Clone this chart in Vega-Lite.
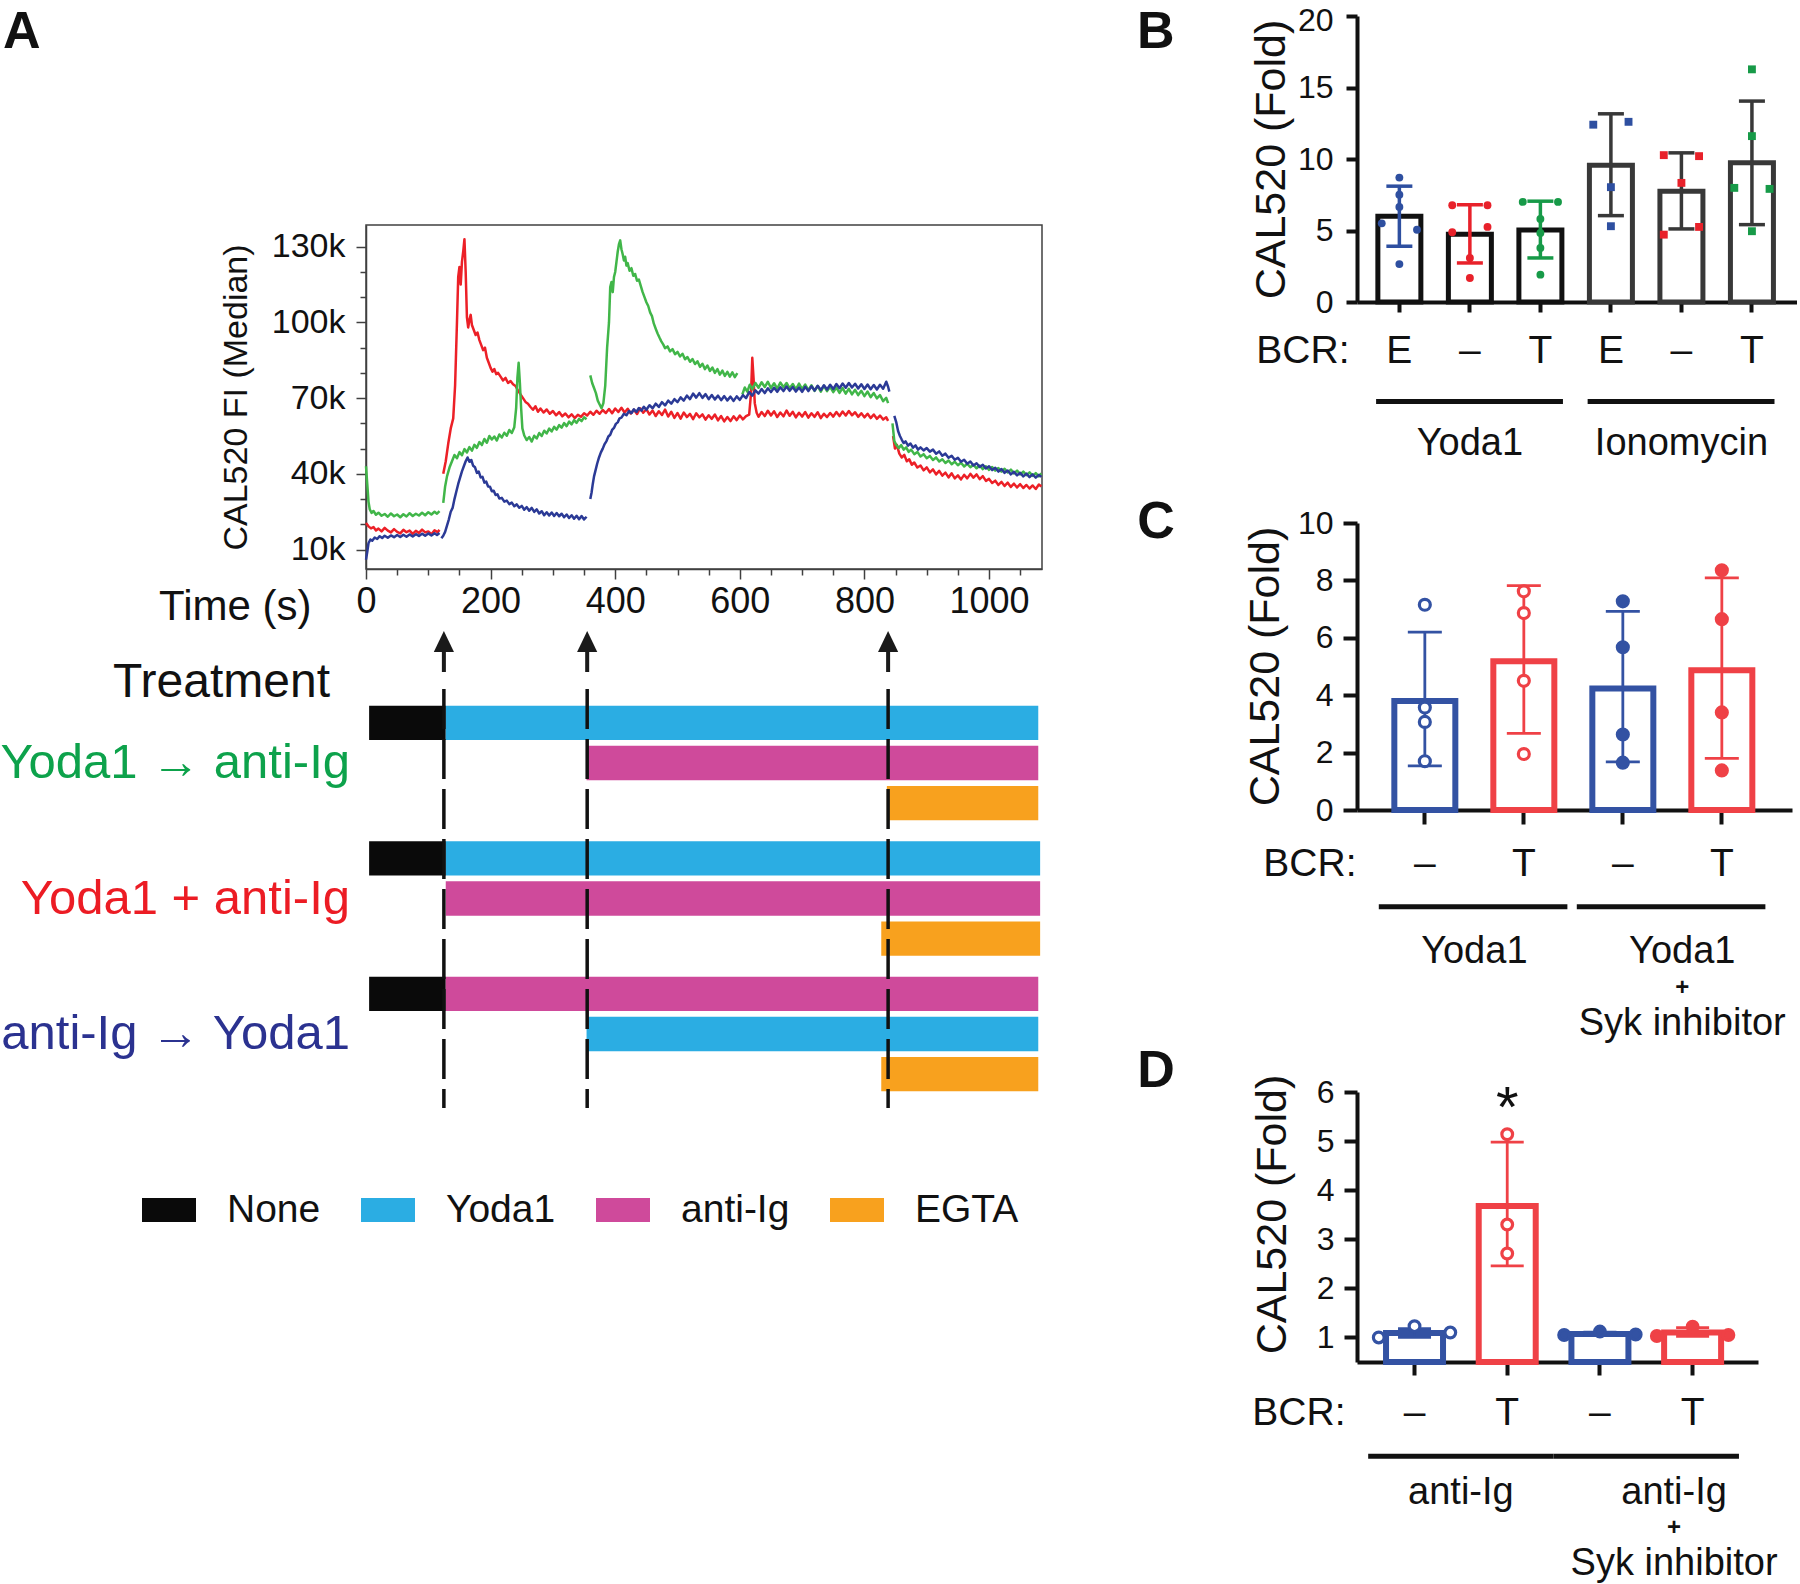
{
"$schema": "https://vega.github.io/schema/vega-lite/v6.json",
"padding": {"left": 0, "top": 4, "right": 0, "bottom": 0},
"background": "white",
"config": {"font": "Liberation Sans", "view": {"stroke": null}, "axis": {"labelColor": "#111", "titleColor": "#111", "domainColor": "#111", "tickColor": "#111", "grid": false, "titleFontWeight": "normal"}, "text": {"color": "#111"}},
"datasets": {
"trace": [
{"s":"R","g":1,"t":0,"v":20.5},{"s":"R","g":1,"t":4,"v":19.2},{"s":"R","g":1,"t":8,"v":18.4},{"s":"R","g":1,"t":12,"v":18.9},{"s":"R","g":1,"t":16,"v":17.6},{"s":"R","g":1,"t":20,"v":18.3},{"s":"R","g":1,"t":25,"v":17.2},{"s":"R","g":1,"t":30,"v":18.6},{"s":"R","g":1,"t":35,"v":17.5},{"s":"R","g":1,"t":40,"v":16.8},{"s":"R","g":1,"t":45,"v":18.1},{"s":"R","g":1,"t":50,"v":17.0},{"s":"R","g":1,"t":55,"v":16.4},{"s":"R","g":1,"t":60,"v":17.8},{"s":"R","g":1,"t":65,"v":16.9},{"s":"R","g":1,"t":70,"v":17.5},{"s":"R","g":1,"t":75,"v":16.2},{"s":"R","g":1,"t":80,"v":17.4},{"s":"R","g":1,"t":85,"v":16.6},{"s":"R","g":1,"t":90,"v":17.9},{"s":"R","g":1,"t":95,"v":16.8},{"s":"R","g":1,"t":100,"v":17.2},{"s":"R","g":1,"t":105,"v":16.1},{"s":"R","g":1,"t":110,"v":17.6},{"s":"R","g":1,"t":115,"v":16.9},{"s":"R","g":1,"t":118,"v":17.8},
{"s":"R","g":2,"t":124,"v":40},{"s":"R","g":2,"t":128,"v":45},{"s":"R","g":2,"t":132,"v":52},{"s":"R","g":2,"t":136,"v":58},{"s":"R","g":2,"t":140,"v":62},{"s":"R","g":2,"t":143,"v":75},{"s":"R","g":2,"t":146,"v":100},{"s":"R","g":2,"t":148,"v":118},{"s":"R","g":2,"t":150,"v":122},{"s":"R","g":2,"t":152,"v":115},{"s":"R","g":2,"t":154,"v":124},{"s":"R","g":2,"t":156,"v":128},{"s":"R","g":2,"t":158,"v":133},{"s":"R","g":2,"t":160,"v":120},{"s":"R","g":2,"t":162,"v":102},{"s":"R","g":2,"t":164,"v":98},{"s":"R","g":2,"t":166,"v":101},{"s":"R","g":2,"t":168,"v":103},{"s":"R","g":2,"t":170,"v":99},{"s":"R","g":2,"t":173,"v":97},{"s":"R","g":2,"t":176,"v":95},{"s":"R","g":2,"t":179,"v":96},{"s":"R","g":2,"t":182,"v":93},{"s":"R","g":2,"t":185,"v":91},{"s":"R","g":2,"t":188,"v":89},{"s":"R","g":2,"t":191,"v":90},{"s":"R","g":2,"t":194,"v":86},{"s":"R","g":2,"t":197,"v":84},{"s":"R","g":2,"t":200,"v":82},{"s":"R","g":2,"t":203,"v":80.5},{"s":"R","g":2,"t":206,"v":81.5},{"s":"R","g":2,"t":209,"v":79.5},{"s":"R","g":2,"t":212,"v":80},{"s":"R","g":2,"t":216,"v":78.5},{"s":"R","g":2,"t":220,"v":77},{"s":"R","g":2,"t":224,"v":78},{"s":"R","g":2,"t":228,"v":76},{"s":"R","g":2,"t":232,"v":76.8},{"s":"R","g":2,"t":236,"v":75.5},{"s":"R","g":2,"t":240,"v":74.8},{"s":"R","g":2,"t":244,"v":73},{"s":"R","g":2,"t":248,"v":71.5},{"s":"R","g":2,"t":252,"v":70},{"s":"R","g":2,"t":256,"v":68.5},{"s":"R","g":2,"t":260,"v":67.8},{"s":"R","g":2,"t":264,"v":66.5},{"s":"R","g":2,"t":268,"v":65.4},{"s":"R","g":2,"t":272,"v":66.8},{"s":"R","g":2,"t":276,"v":64.6},{"s":"R","g":2,"t":280,"v":65.9},{"s":"R","g":2,"t":285,"v":64.3},{"s":"R","g":2,"t":290,"v":65.5},{"s":"R","g":2,"t":295,"v":63.8},{"s":"R","g":2,"t":300,"v":64.9},{"s":"R","g":2,"t":305,"v":63.2},{"s":"R","g":2,"t":310,"v":64.5},{"s":"R","g":2,"t":315,"v":62.8},{"s":"R","g":2,"t":320,"v":63.9},{"s":"R","g":2,"t":325,"v":62.4},{"s":"R","g":2,"t":330,"v":63.6},{"s":"R","g":2,"t":335,"v":62.1},{"s":"R","g":2,"t":340,"v":63.4},{"s":"R","g":2,"t":345,"v":62.6},{"s":"R","g":2,"t":350,"v":64.0},{"s":"R","g":2,"t":355,"v":63.1},{"s":"R","g":2,"t":360,"v":64.6},{"s":"R","g":2,"t":365,"v":63.4},{"s":"R","g":2,"t":370,"v":65.0},{"s":"R","g":2,"t":375,"v":63.8},{"s":"R","g":2,"t":380,"v":65.3},{"s":"R","g":2,"t":385,"v":64.1},{"s":"R","g":2,"t":390,"v":65.7},{"s":"R","g":2,"t":395,"v":64.0},{"s":"R","g":2,"t":400,"v":65.9},{"s":"R","g":2,"t":405,"v":64.5},{"s":"R","g":2,"t":410,"v":66.2},{"s":"R","g":2,"t":415,"v":64.3},{"s":"R","g":2,"t":420,"v":65.8},{"s":"R","g":2,"t":425,"v":63.9},{"s":"R","g":2,"t":430,"v":65.4},{"s":"R","g":2,"t":435,"v":63.7},{"s":"R","g":2,"t":440,"v":66.0},{"s":"R","g":2,"t":445,"v":64.2},{"s":"R","g":2,"t":450,"v":65.6},{"s":"R","g":2,"t":455,"v":63.5},{"s":"R","g":2,"t":460,"v":65.1},{"s":"R","g":2,"t":465,"v":62.9},{"s":"R","g":2,"t":470,"v":64.8},{"s":"R","g":2,"t":475,"v":63.3},{"s":"R","g":2,"t":480,"v":65.5},{"s":"R","g":2,"t":485,"v":62.7},{"s":"R","g":2,"t":490,"v":64.6},{"s":"R","g":2,"t":495,"v":62.2},{"s":"R","g":2,"t":500,"v":64.1},{"s":"R","g":2,"t":505,"v":61.9},{"s":"R","g":2,"t":510,"v":64.3},{"s":"R","g":2,"t":515,"v":62.5},{"s":"R","g":2,"t":520,"v":63.8},{"s":"R","g":2,"t":525,"v":61.7},{"s":"R","g":2,"t":530,"v":64.0},{"s":"R","g":2,"t":535,"v":62.4},{"s":"R","g":2,"t":540,"v":63.6},{"s":"R","g":2,"t":545,"v":61.5},{"s":"R","g":2,"t":550,"v":63.2},{"s":"R","g":2,"t":555,"v":61.8},{"s":"R","g":2,"t":560,"v":63.5},{"s":"R","g":2,"t":565,"v":61.2},{"s":"R","g":2,"t":570,"v":62.9},{"s":"R","g":2,"t":575,"v":60.8},{"s":"R","g":2,"t":580,"v":62.5},{"s":"R","g":2,"t":585,"v":60.9},{"s":"R","g":2,"t":590,"v":62.8},{"s":"R","g":2,"t":595,"v":61.3},{"s":"R","g":2,"t":600,"v":63.1},{"s":"R","g":2,"t":605,"v":61.6},{"s":"R","g":2,"t":610,"v":62.9},{"s":"R","g":2,"t":615,"v":63.5},{"s":"R","g":2,"t":618,"v":72},{"s":"R","g":2,"t":620,"v":86},{"s":"R","g":2,"t":622,"v":78},{"s":"R","g":2,"t":624,"v":68},{"s":"R","g":2,"t":627,"v":64.2},{"s":"R","g":2,"t":630,"v":62.6},{"s":"R","g":2,"t":635,"v":64.5},{"s":"R","g":2,"t":640,"v":62.9},{"s":"R","g":2,"t":645,"v":65.0},{"s":"R","g":2,"t":650,"v":63.1},{"s":"R","g":2,"t":655,"v":64.8},{"s":"R","g":2,"t":660,"v":62.5},{"s":"R","g":2,"t":665,"v":64.3},{"s":"R","g":2,"t":670,"v":62.8},{"s":"R","g":2,"t":675,"v":65.1},{"s":"R","g":2,"t":680,"v":63.0},{"s":"R","g":2,"t":685,"v":64.6},{"s":"R","g":2,"t":690,"v":62.4},{"s":"R","g":2,"t":695,"v":64.2},{"s":"R","g":2,"t":700,"v":62.7},{"s":"R","g":2,"t":705,"v":64.5},{"s":"R","g":2,"t":710,"v":62.3},{"s":"R","g":2,"t":715,"v":64.0},{"s":"R","g":2,"t":720,"v":62.6},{"s":"R","g":2,"t":725,"v":64.4},{"s":"R","g":2,"t":730,"v":62.1},{"s":"R","g":2,"t":735,"v":63.8},{"s":"R","g":2,"t":740,"v":62.5},{"s":"R","g":2,"t":745,"v":64.1},{"s":"R","g":2,"t":750,"v":62.7},{"s":"R","g":2,"t":755,"v":64.5},{"s":"R","g":2,"t":760,"v":62.9},{"s":"R","g":2,"t":765,"v":64.7},{"s":"R","g":2,"t":770,"v":63.1},{"s":"R","g":2,"t":775,"v":64.9},{"s":"R","g":2,"t":780,"v":63.2},{"s":"R","g":2,"t":785,"v":64.4},{"s":"R","g":2,"t":790,"v":62.6},{"s":"R","g":2,"t":795,"v":64.0},{"s":"R","g":2,"t":800,"v":62.4},{"s":"R","g":2,"t":805,"v":63.8},{"s":"R","g":2,"t":810,"v":62.1},{"s":"R","g":2,"t":815,"v":63.5},{"s":"R","g":2,"t":820,"v":61.8},{"s":"R","g":2,"t":825,"v":63.1},{"s":"R","g":2,"t":830,"v":61.5},{"s":"R","g":2,"t":835,"v":62.4},{"s":"R","g":2,"t":838,"v":61.0},
{"s":"R","g":3,"t":846,"v":55},{"s":"R","g":3,"t":849,"v":50},{"s":"R","g":3,"t":852,"v":51.5},{"s":"R","g":3,"t":856,"v":48},{"s":"R","g":3,"t":860,"v":46.5},{"s":"R","g":3,"t":864,"v":47.5},{"s":"R","g":3,"t":868,"v":45},{"s":"R","g":3,"t":872,"v":45.8},{"s":"R","g":3,"t":876,"v":43.6},{"s":"R","g":3,"t":880,"v":44.5},{"s":"R","g":3,"t":885,"v":42.5},{"s":"R","g":3,"t":890,"v":43.3},{"s":"R","g":3,"t":895,"v":41.4},{"s":"R","g":3,"t":900,"v":42.6},{"s":"R","g":3,"t":905,"v":40.6},{"s":"R","g":3,"t":910,"v":41.8},{"s":"R","g":3,"t":915,"v":39.8},{"s":"R","g":3,"t":920,"v":41.2},{"s":"R","g":3,"t":925,"v":39.3},{"s":"R","g":3,"t":930,"v":40.5},{"s":"R","g":3,"t":935,"v":38.6},{"s":"R","g":3,"t":940,"v":40.2},{"s":"R","g":3,"t":945,"v":38.2},{"s":"R","g":3,"t":950,"v":39.4},{"s":"R","g":3,"t":955,"v":37.8},{"s":"R","g":3,"t":960,"v":39.6},{"s":"R","g":3,"t":965,"v":38.2},{"s":"R","g":3,"t":970,"v":40.0},{"s":"R","g":3,"t":975,"v":38.5},{"s":"R","g":3,"t":980,"v":39.8},{"s":"R","g":3,"t":985,"v":37.9},{"s":"R","g":3,"t":990,"v":39.1},{"s":"R","g":3,"t":995,"v":37.2},{"s":"R","g":3,"t":1000,"v":38.0},{"s":"R","g":3,"t":1005,"v":36.4},{"s":"R","g":3,"t":1010,"v":37.3},{"s":"R","g":3,"t":1015,"v":35.6},{"s":"R","g":3,"t":1020,"v":36.8},{"s":"R","g":3,"t":1025,"v":35.2},{"s":"R","g":3,"t":1030,"v":36.5},{"s":"R","g":3,"t":1035,"v":34.8},{"s":"R","g":3,"t":1040,"v":36.1},{"s":"R","g":3,"t":1045,"v":34.6},{"s":"R","g":3,"t":1050,"v":35.9},{"s":"R","g":3,"t":1055,"v":34.4},{"s":"R","g":3,"t":1060,"v":35.6},{"s":"R","g":3,"t":1065,"v":34.2},{"s":"R","g":3,"t":1070,"v":35.4},{"s":"R","g":3,"t":1075,"v":34.0},{"s":"R","g":3,"t":1080,"v":35.8},{"s":"R","g":3,"t":1084,"v":35.0},
{"s":"G","g":1,"t":0,"v":43},{"s":"G","g":1,"t":2,"v":36},{"s":"G","g":1,"t":4,"v":29},{"s":"G","g":1,"t":6,"v":26},{"s":"G","g":1,"t":9,"v":24.5},{"s":"G","g":1,"t":12,"v":25.3},{"s":"G","g":1,"t":16,"v":23.8},{"s":"G","g":1,"t":20,"v":24.6},{"s":"G","g":1,"t":25,"v":23.4},{"s":"G","g":1,"t":30,"v":24.1},{"s":"G","g":1,"t":35,"v":23.0},{"s":"G","g":1,"t":40,"v":24.3},{"s":"G","g":1,"t":45,"v":23.2},{"s":"G","g":1,"t":50,"v":23.9},{"s":"G","g":1,"t":55,"v":22.8},{"s":"G","g":1,"t":60,"v":24.0},{"s":"G","g":1,"t":65,"v":23.1},{"s":"G","g":1,"t":70,"v":24.4},{"s":"G","g":1,"t":75,"v":23.3},{"s":"G","g":1,"t":80,"v":24.2},{"s":"G","g":1,"t":85,"v":23.5},{"s":"G","g":1,"t":90,"v":24.6},{"s":"G","g":1,"t":95,"v":23.6},{"s":"G","g":1,"t":100,"v":24.8},{"s":"G","g":1,"t":105,"v":23.9},{"s":"G","g":1,"t":110,"v":25.0},{"s":"G","g":1,"t":114,"v":24.2},{"s":"G","g":1,"t":118,"v":25.2},
{"s":"G","g":2,"t":124,"v":28.5},{"s":"G","g":2,"t":127,"v":35},{"s":"G","g":2,"t":130,"v":39},{"s":"G","g":2,"t":134,"v":42.5},{"s":"G","g":2,"t":138,"v":45},{"s":"G","g":2,"t":142,"v":47.5},{"s":"G","g":2,"t":146,"v":46.2},{"s":"G","g":2,"t":150,"v":48.6},{"s":"G","g":2,"t":154,"v":47.4},{"s":"G","g":2,"t":158,"v":49.8},{"s":"G","g":2,"t":162,"v":48.5},{"s":"G","g":2,"t":166,"v":50.6},{"s":"G","g":2,"t":170,"v":49.2},{"s":"G","g":2,"t":174,"v":51.5},{"s":"G","g":2,"t":178,"v":50.3},{"s":"G","g":2,"t":182,"v":52.6},{"s":"G","g":2,"t":186,"v":51.4},{"s":"G","g":2,"t":190,"v":53.8},{"s":"G","g":2,"t":194,"v":52.3},{"s":"G","g":2,"t":198,"v":55.0},{"s":"G","g":2,"t":202,"v":53.6},{"s":"G","g":2,"t":206,"v":54.8},{"s":"G","g":2,"t":210,"v":53.2},{"s":"G","g":2,"t":214,"v":55.6},{"s":"G","g":2,"t":218,"v":54.4},{"s":"G","g":2,"t":222,"v":56.3},{"s":"G","g":2,"t":226,"v":55.1},{"s":"G","g":2,"t":230,"v":57.4},{"s":"G","g":2,"t":234,"v":56.2},{"s":"G","g":2,"t":238,"v":58.5},{"s":"G","g":2,"t":241,"v":66},{"s":"G","g":2,"t":243,"v":78},{"s":"G","g":2,"t":245,"v":84},{"s":"G","g":2,"t":247,"v":76},{"s":"G","g":2,"t":249,"v":66},{"s":"G","g":2,"t":251,"v":58},{"s":"G","g":2,"t":254,"v":55.2},{"s":"G","g":2,"t":258,"v":53.4},{"s":"G","g":2,"t":262,"v":54.6},{"s":"G","g":2,"t":266,"v":52.8},{"s":"G","g":2,"t":270,"v":55.1},{"s":"G","g":2,"t":274,"v":54.0},{"s":"G","g":2,"t":278,"v":56.2},{"s":"G","g":2,"t":282,"v":55.0},{"s":"G","g":2,"t":286,"v":57.1},{"s":"G","g":2,"t":290,"v":56.0},{"s":"G","g":2,"t":294,"v":57.9},{"s":"G","g":2,"t":298,"v":56.8},{"s":"G","g":2,"t":302,"v":58.6},{"s":"G","g":2,"t":306,"v":57.5},{"s":"G","g":2,"t":310,"v":59.3},{"s":"G","g":2,"t":314,"v":58.3},{"s":"G","g":2,"t":318,"v":60.1},{"s":"G","g":2,"t":322,"v":58.9},{"s":"G","g":2,"t":326,"v":60.7},{"s":"G","g":2,"t":330,"v":59.6},{"s":"G","g":2,"t":334,"v":61.3},{"s":"G","g":2,"t":338,"v":60.2},{"s":"G","g":2,"t":342,"v":61.8},{"s":"G","g":2,"t":346,"v":60.9},{"s":"G","g":2,"t":350,"v":62.4},{"s":"G","g":2,"t":354,"v":61.6},
{"s":"G","g":3,"t":360,"v":79},{"s":"G","g":3,"t":363,"v":76},{"s":"G","g":3,"t":366,"v":74},{"s":"G","g":3,"t":369,"v":72},{"s":"G","g":3,"t":372,"v":69},{"s":"G","g":3,"t":375,"v":67.5},{"s":"G","g":3,"t":378,"v":66},{"s":"G","g":3,"t":381,"v":68},{"s":"G","g":3,"t":384,"v":75},{"s":"G","g":3,"t":387,"v":90},{"s":"G","g":3,"t":390,"v":100},{"s":"G","g":3,"t":392,"v":114},{"s":"G","g":3,"t":394,"v":116},{"s":"G","g":3,"t":396,"v":112},{"s":"G","g":3,"t":398,"v":118},{"s":"G","g":3,"t":400,"v":120},{"s":"G","g":3,"t":402,"v":124},{"s":"G","g":3,"t":404,"v":128},{"s":"G","g":3,"t":406,"v":131},{"s":"G","g":3,"t":408,"v":132.5},{"s":"G","g":3,"t":410,"v":129},{"s":"G","g":3,"t":412,"v":127},{"s":"G","g":3,"t":414,"v":124.5},{"s":"G","g":3,"t":416,"v":126},{"s":"G","g":3,"t":418,"v":122.5},{"s":"G","g":3,"t":420,"v":123.5},{"s":"G","g":3,"t":423,"v":120.5},{"s":"G","g":3,"t":426,"v":121.5},{"s":"G","g":3,"t":429,"v":118.5},{"s":"G","g":3,"t":432,"v":119.2},{"s":"G","g":3,"t":435,"v":116.5},{"s":"G","g":3,"t":438,"v":117},{"s":"G","g":3,"t":441,"v":114.5},{"s":"G","g":3,"t":444,"v":112},{"s":"G","g":3,"t":447,"v":110},{"s":"G","g":3,"t":450,"v":108},{"s":"G","g":3,"t":453,"v":106.5},{"s":"G","g":3,"t":456,"v":104},{"s":"G","g":3,"t":459,"v":102.5},{"s":"G","g":3,"t":462,"v":99.5},{"s":"G","g":3,"t":465,"v":97.5},{"s":"G","g":3,"t":468,"v":95.6},{"s":"G","g":3,"t":471,"v":94},{"s":"G","g":3,"t":474,"v":92.5},{"s":"G","g":3,"t":477,"v":91.3},{"s":"G","g":3,"t":480,"v":89.8},{"s":"G","g":3,"t":484,"v":90.5},{"s":"G","g":3,"t":488,"v":88.5},{"s":"G","g":3,"t":492,"v":89.4},{"s":"G","g":3,"t":496,"v":87.4},{"s":"G","g":3,"t":500,"v":88.3},{"s":"G","g":3,"t":504,"v":86.5},{"s":"G","g":3,"t":508,"v":87.6},{"s":"G","g":3,"t":512,"v":85.4},{"s":"G","g":3,"t":516,"v":86.3},{"s":"G","g":3,"t":520,"v":84.4},{"s":"G","g":3,"t":524,"v":85.5},{"s":"G","g":3,"t":528,"v":83.5},{"s":"G","g":3,"t":532,"v":84.6},{"s":"G","g":3,"t":536,"v":82.4},{"s":"G","g":3,"t":540,"v":83.6},{"s":"G","g":3,"t":544,"v":81.5},{"s":"G","g":3,"t":548,"v":82.9},{"s":"G","g":3,"t":552,"v":80.8},{"s":"G","g":3,"t":556,"v":82.1},{"s":"G","g":3,"t":560,"v":80.0},{"s":"G","g":3,"t":564,"v":81.5},{"s":"G","g":3,"t":568,"v":79.3},{"s":"G","g":3,"t":572,"v":80.9},{"s":"G","g":3,"t":576,"v":78.8},{"s":"G","g":3,"t":580,"v":80.4},{"s":"G","g":3,"t":584,"v":78.5},{"s":"G","g":3,"t":588,"v":80.2},{"s":"G","g":3,"t":592,"v":78.3},{"s":"G","g":3,"t":596,"v":79.9},
{"s":"G","g":4,"t":604,"v":71.5},{"s":"G","g":4,"t":608,"v":74.2},{"s":"G","g":4,"t":612,"v":72.6},{"s":"G","g":4,"t":616,"v":75.3},{"s":"G","g":4,"t":620,"v":73.5},{"s":"G","g":4,"t":625,"v":76.0},{"s":"G","g":4,"t":630,"v":74.1},{"s":"G","g":4,"t":635,"v":76.3},{"s":"G","g":4,"t":640,"v":74.4},{"s":"G","g":4,"t":645,"v":76.5},{"s":"G","g":4,"t":650,"v":74.0},{"s":"G","g":4,"t":655,"v":75.9},{"s":"G","g":4,"t":660,"v":73.8},{"s":"G","g":4,"t":665,"v":76.2},{"s":"G","g":4,"t":670,"v":74.3},{"s":"G","g":4,"t":675,"v":76.0},{"s":"G","g":4,"t":680,"v":73.9},{"s":"G","g":4,"t":685,"v":75.6},{"s":"G","g":4,"t":690,"v":73.5},{"s":"G","g":4,"t":695,"v":75.8},{"s":"G","g":4,"t":700,"v":73.6},{"s":"G","g":4,"t":705,"v":75.4},{"s":"G","g":4,"t":710,"v":73.2},{"s":"G","g":4,"t":715,"v":75.1},{"s":"G","g":4,"t":720,"v":72.9},{"s":"G","g":4,"t":725,"v":74.8},{"s":"G","g":4,"t":730,"v":72.6},{"s":"G","g":4,"t":735,"v":74.9},{"s":"G","g":4,"t":740,"v":72.8},{"s":"G","g":4,"t":745,"v":74.5},{"s":"G","g":4,"t":750,"v":72.4},{"s":"G","g":4,"t":755,"v":74.2},{"s":"G","g":4,"t":760,"v":72.1},{"s":"G","g":4,"t":765,"v":74.0},{"s":"G","g":4,"t":770,"v":71.8},{"s":"G","g":4,"t":775,"v":73.7},{"s":"G","g":4,"t":780,"v":71.5},{"s":"G","g":4,"t":785,"v":73.3},{"s":"G","g":4,"t":790,"v":71.2},{"s":"G","g":4,"t":795,"v":72.9},{"s":"G","g":4,"t":800,"v":70.8},{"s":"G","g":4,"t":805,"v":72.6},{"s":"G","g":4,"t":810,"v":70.4},{"s":"G","g":4,"t":815,"v":72.0},{"s":"G","g":4,"t":820,"v":69.9},{"s":"G","g":4,"t":825,"v":71.2},{"s":"G","g":4,"t":830,"v":68.8},{"s":"G","g":4,"t":835,"v":70.1},{"s":"G","g":4,"t":838,"v":68.0},
{"s":"G","g":5,"t":845,"v":60},{"s":"G","g":5,"t":848,"v":53},{"s":"G","g":5,"t":851,"v":51.5},{"s":"G","g":5,"t":855,"v":50.2},{"s":"G","g":5,"t":859,"v":51.4},{"s":"G","g":5,"t":863,"v":49.6},{"s":"G","g":5,"t":867,"v":50.5},{"s":"G","g":5,"t":871,"v":48.7},{"s":"G","g":5,"t":875,"v":49.6},{"s":"G","g":5,"t":880,"v":47.8},{"s":"G","g":5,"t":885,"v":48.7},{"s":"G","g":5,"t":890,"v":46.9},{"s":"G","g":5,"t":895,"v":47.8},{"s":"G","g":5,"t":900,"v":46.2},{"s":"G","g":5,"t":905,"v":47.1},{"s":"G","g":5,"t":910,"v":45.5},{"s":"G","g":5,"t":915,"v":46.5},{"s":"G","g":5,"t":920,"v":44.9},{"s":"G","g":5,"t":925,"v":45.8},{"s":"G","g":5,"t":930,"v":44.3},{"s":"G","g":5,"t":935,"v":45.3},{"s":"G","g":5,"t":940,"v":43.8},{"s":"G","g":5,"t":945,"v":44.8},{"s":"G","g":5,"t":950,"v":43.4},{"s":"G","g":5,"t":955,"v":44.4},{"s":"G","g":5,"t":960,"v":42.9},{"s":"G","g":5,"t":965,"v":44.0},{"s":"G","g":5,"t":970,"v":42.6},{"s":"G","g":5,"t":975,"v":43.6},{"s":"G","g":5,"t":980,"v":42.2},{"s":"G","g":5,"t":985,"v":43.3},{"s":"G","g":5,"t":990,"v":41.9},{"s":"G","g":5,"t":995,"v":43.0},{"s":"G","g":5,"t":1000,"v":41.6},{"s":"G","g":5,"t":1005,"v":42.7},{"s":"G","g":5,"t":1010,"v":41.3},{"s":"G","g":5,"t":1015,"v":42.3},{"s":"G","g":5,"t":1020,"v":40.9},{"s":"G","g":5,"t":1025,"v":42.0},{"s":"G","g":5,"t":1030,"v":40.6},{"s":"G","g":5,"t":1035,"v":41.7},{"s":"G","g":5,"t":1040,"v":40.2},{"s":"G","g":5,"t":1045,"v":41.3},{"s":"G","g":5,"t":1050,"v":39.8},{"s":"G","g":5,"t":1055,"v":40.9},{"s":"G","g":5,"t":1060,"v":39.5},{"s":"G","g":5,"t":1065,"v":40.6},{"s":"G","g":5,"t":1070,"v":39.2},{"s":"G","g":5,"t":1075,"v":40.3},{"s":"G","g":5,"t":1080,"v":39.0},{"s":"G","g":5,"t":1084,"v":40.2},
{"s":"B","g":1,"t":0,"v":6},{"s":"B","g":1,"t":2,"v":9},{"s":"B","g":1,"t":4,"v":12.5},{"s":"B","g":1,"t":7,"v":14},{"s":"B","g":1,"t":10,"v":13.5},{"s":"B","g":1,"t":14,"v":14.8},{"s":"B","g":1,"t":18,"v":14.2},{"s":"B","g":1,"t":22,"v":15.3},{"s":"B","g":1,"t":26,"v":14.6},{"s":"B","g":1,"t":30,"v":15.5},{"s":"B","g":1,"t":35,"v":14.7},{"s":"B","g":1,"t":40,"v":15.6},{"s":"B","g":1,"t":45,"v":14.9},{"s":"B","g":1,"t":50,"v":15.8},{"s":"B","g":1,"t":55,"v":15.0},{"s":"B","g":1,"t":60,"v":15.9},{"s":"B","g":1,"t":65,"v":15.1},{"s":"B","g":1,"t":70,"v":16.0},{"s":"B","g":1,"t":75,"v":15.2},{"s":"B","g":1,"t":80,"v":16.1},{"s":"B","g":1,"t":85,"v":15.4},{"s":"B","g":1,"t":90,"v":16.3},{"s":"B","g":1,"t":95,"v":15.5},{"s":"B","g":1,"t":100,"v":16.4},{"s":"B","g":1,"t":105,"v":15.6},{"s":"B","g":1,"t":110,"v":16.5},{"s":"B","g":1,"t":114,"v":15.8},{"s":"B","g":1,"t":118,"v":16.6},
{"s":"B","g":2,"t":121,"v":14.5},{"s":"B","g":2,"t":124,"v":15.5},{"s":"B","g":2,"t":127,"v":17},{"s":"B","g":2,"t":130,"v":19.5},{"s":"B","g":2,"t":133,"v":22},{"s":"B","g":2,"t":136,"v":25},{"s":"B","g":2,"t":139,"v":26.5},{"s":"B","g":2,"t":142,"v":30},{"s":"B","g":2,"t":145,"v":33},{"s":"B","g":2,"t":148,"v":36},{"s":"B","g":2,"t":151,"v":38.5},{"s":"B","g":2,"t":154,"v":41},{"s":"B","g":2,"t":157,"v":43},{"s":"B","g":2,"t":160,"v":45},{"s":"B","g":2,"t":163,"v":46.5},{"s":"B","g":2,"t":166,"v":44.8},{"s":"B","g":2,"t":169,"v":45.5},{"s":"B","g":2,"t":172,"v":43.2},{"s":"B","g":2,"t":175,"v":42.6},{"s":"B","g":2,"t":178,"v":40.4},{"s":"B","g":2,"t":181,"v":40.9},{"s":"B","g":2,"t":184,"v":38.6},{"s":"B","g":2,"t":187,"v":38.8},{"s":"B","g":2,"t":190,"v":36.5},{"s":"B","g":2,"t":193,"v":36.9},{"s":"B","g":2,"t":196,"v":35.0},{"s":"B","g":2,"t":199,"v":34.9},{"s":"B","g":2,"t":202,"v":33.1},{"s":"B","g":2,"t":205,"v":33.3},{"s":"B","g":2,"t":208,"v":31.6},{"s":"B","g":2,"t":211,"v":31.9},{"s":"B","g":2,"t":214,"v":30.2},{"s":"B","g":2,"t":218,"v":30.5},{"s":"B","g":2,"t":222,"v":29.0},{"s":"B","g":2,"t":226,"v":29.4},{"s":"B","g":2,"t":230,"v":28.0},{"s":"B","g":2,"t":234,"v":28.6},{"s":"B","g":2,"t":238,"v":27.2},{"s":"B","g":2,"t":242,"v":27.9},{"s":"B","g":2,"t":246,"v":26.6},{"s":"B","g":2,"t":250,"v":27.3},{"s":"B","g":2,"t":254,"v":25.8},{"s":"B","g":2,"t":258,"v":26.8},{"s":"B","g":2,"t":262,"v":25.4},{"s":"B","g":2,"t":266,"v":26.5},{"s":"B","g":2,"t":270,"v":24.9},{"s":"B","g":2,"t":274,"v":25.9},{"s":"B","g":2,"t":278,"v":24.3},{"s":"B","g":2,"t":282,"v":25.2},{"s":"B","g":2,"t":286,"v":23.6},{"s":"B","g":2,"t":290,"v":24.8},{"s":"B","g":2,"t":294,"v":23.5},{"s":"B","g":2,"t":298,"v":24.7},{"s":"B","g":2,"t":302,"v":23.3},{"s":"B","g":2,"t":306,"v":24.5},{"s":"B","g":2,"t":310,"v":23.2},{"s":"B","g":2,"t":314,"v":24.2},{"s":"B","g":2,"t":318,"v":22.8},{"s":"B","g":2,"t":322,"v":23.9},{"s":"B","g":2,"t":326,"v":22.5},{"s":"B","g":2,"t":330,"v":23.6},{"s":"B","g":2,"t":334,"v":22.2},{"s":"B","g":2,"t":338,"v":23.4},{"s":"B","g":2,"t":342,"v":22.0},{"s":"B","g":2,"t":346,"v":23.3},{"s":"B","g":2,"t":350,"v":21.9},{"s":"B","g":2,"t":354,"v":23.0},
{"s":"B","g":3,"t":360,"v":30},{"s":"B","g":3,"t":362,"v":32.5},{"s":"B","g":3,"t":364,"v":36},{"s":"B","g":3,"t":366,"v":39},{"s":"B","g":3,"t":368,"v":41},{"s":"B","g":3,"t":371,"v":44},{"s":"B","g":3,"t":374,"v":46.5},{"s":"B","g":3,"t":377,"v":48.5},{"s":"B","g":3,"t":380,"v":50},{"s":"B","g":3,"t":383,"v":51.8},{"s":"B","g":3,"t":386,"v":53},{"s":"B","g":3,"t":389,"v":54.8},{"s":"B","g":3,"t":392,"v":55.5},{"s":"B","g":3,"t":395,"v":57.4},{"s":"B","g":3,"t":398,"v":58.2},{"s":"B","g":3,"t":401,"v":59.8},{"s":"B","g":3,"t":404,"v":60.4},{"s":"B","g":3,"t":407,"v":62.0},{"s":"B","g":3,"t":410,"v":62.3},{"s":"B","g":3,"t":414,"v":63.8},{"s":"B","g":3,"t":418,"v":63.2},{"s":"B","g":3,"t":422,"v":64.9},{"s":"B","g":3,"t":426,"v":64.0},{"s":"B","g":3,"t":430,"v":65.6},{"s":"B","g":3,"t":434,"v":64.5},{"s":"B","g":3,"t":438,"v":66.1},{"s":"B","g":3,"t":442,"v":65.0},{"s":"B","g":3,"t":446,"v":66.6},{"s":"B","g":3,"t":450,"v":65.4},{"s":"B","g":3,"t":455,"v":67.2},{"s":"B","g":3,"t":460,"v":66.0},{"s":"B","g":3,"t":465,"v":67.8},{"s":"B","g":3,"t":470,"v":66.5},{"s":"B","g":3,"t":475,"v":68.4},{"s":"B","g":3,"t":480,"v":67.1},{"s":"B","g":3,"t":485,"v":69.0},{"s":"B","g":3,"t":490,"v":67.8},{"s":"B","g":3,"t":495,"v":69.6},{"s":"B","g":3,"t":500,"v":68.4},{"s":"B","g":3,"t":505,"v":70.3},{"s":"B","g":3,"t":510,"v":69.0},{"s":"B","g":3,"t":515,"v":71.0},{"s":"B","g":3,"t":520,"v":69.6},{"s":"B","g":3,"t":525,"v":71.8},{"s":"B","g":3,"t":530,"v":70.2},{"s":"B","g":3,"t":535,"v":72.0},{"s":"B","g":3,"t":540,"v":70.1},{"s":"B","g":3,"t":545,"v":71.6},{"s":"B","g":3,"t":550,"v":69.6},{"s":"B","g":3,"t":555,"v":71.2},{"s":"B","g":3,"t":560,"v":69.5},{"s":"B","g":3,"t":565,"v":71.0},{"s":"B","g":3,"t":570,"v":69.2},{"s":"B","g":3,"t":575,"v":70.8},{"s":"B","g":3,"t":580,"v":69.1},{"s":"B","g":3,"t":585,"v":70.6},{"s":"B","g":3,"t":590,"v":68.9},{"s":"B","g":3,"t":595,"v":70.7},{"s":"B","g":3,"t":600,"v":69.3},{"s":"B","g":3,"t":605,"v":71.2},{"s":"B","g":3,"t":610,"v":70.0},{"s":"B","g":3,"t":615,"v":72.4},{"s":"B","g":3,"t":620,"v":71.0},{"s":"B","g":3,"t":625,"v":73.1},{"s":"B","g":3,"t":630,"v":71.8},{"s":"B","g":3,"t":635,"v":73.6},{"s":"B","g":3,"t":640,"v":72.0},{"s":"B","g":3,"t":645,"v":73.9},{"s":"B","g":3,"t":650,"v":72.4},{"s":"B","g":3,"t":655,"v":74.1},{"s":"B","g":3,"t":660,"v":72.5},{"s":"B","g":3,"t":665,"v":74.3},{"s":"B","g":3,"t":670,"v":72.8},{"s":"B","g":3,"t":675,"v":74.6},{"s":"B","g":3,"t":680,"v":72.9},{"s":"B","g":3,"t":685,"v":74.4},{"s":"B","g":3,"t":690,"v":72.6},{"s":"B","g":3,"t":695,"v":74.2},{"s":"B","g":3,"t":700,"v":72.5},{"s":"B","g":3,"t":705,"v":74.5},{"s":"B","g":3,"t":710,"v":72.8},{"s":"B","g":3,"t":715,"v":74.7},{"s":"B","g":3,"t":720,"v":73.0},{"s":"B","g":3,"t":725,"v":74.9},{"s":"B","g":3,"t":730,"v":73.2},{"s":"B","g":3,"t":735,"v":75.1},{"s":"B","g":3,"t":740,"v":73.4},{"s":"B","g":3,"t":745,"v":75.3},{"s":"B","g":3,"t":750,"v":73.6},{"s":"B","g":3,"t":755,"v":75.6},{"s":"B","g":3,"t":760,"v":73.9},{"s":"B","g":3,"t":765,"v":75.8},{"s":"B","g":3,"t":770,"v":74.1},{"s":"B","g":3,"t":775,"v":76.0},{"s":"B","g":3,"t":780,"v":74.2},{"s":"B","g":3,"t":785,"v":75.7},{"s":"B","g":3,"t":790,"v":73.8},{"s":"B","g":3,"t":795,"v":75.5},{"s":"B","g":3,"t":800,"v":73.6},{"s":"B","g":3,"t":805,"v":75.4},{"s":"B","g":3,"t":810,"v":73.5},{"s":"B","g":3,"t":815,"v":75.2},{"s":"B","g":3,"t":820,"v":73.4},{"s":"B","g":3,"t":825,"v":75.3},{"s":"B","g":3,"t":830,"v":73.7},{"s":"B","g":3,"t":835,"v":76.5},{"s":"B","g":3,"t":838,"v":74.5},{"s":"B","g":3,"t":840,"v":72.6},
{"s":"B","g":4,"t":848,"v":63},{"s":"B","g":4,"t":851,"v":60.5},{"s":"B","g":4,"t":854,"v":57},{"s":"B","g":4,"t":857,"v":55},{"s":"B","g":4,"t":860,"v":53.5},{"s":"B","g":4,"t":863,"v":52.2},{"s":"B","g":4,"t":866,"v":52.9},{"s":"B","g":4,"t":870,"v":51.2},{"s":"B","g":4,"t":874,"v":52.0},{"s":"B","g":4,"t":878,"v":50.4},{"s":"B","g":4,"t":882,"v":51.3},{"s":"B","g":4,"t":886,"v":49.6},{"s":"B","g":4,"t":890,"v":50.5},{"s":"B","g":4,"t":895,"v":49.3},{"s":"B","g":4,"t":900,"v":50.2},{"s":"B","g":4,"t":905,"v":48.8},{"s":"B","g":4,"t":910,"v":49.6},{"s":"B","g":4,"t":915,"v":48.0},{"s":"B","g":4,"t":920,"v":48.9},{"s":"B","g":4,"t":925,"v":47.2},{"s":"B","g":4,"t":930,"v":48.0},{"s":"B","g":4,"t":935,"v":46.4},{"s":"B","g":4,"t":940,"v":47.2},{"s":"B","g":4,"t":945,"v":45.6},{"s":"B","g":4,"t":950,"v":46.4},{"s":"B","g":4,"t":955,"v":44.8},{"s":"B","g":4,"t":960,"v":45.6},{"s":"B","g":4,"t":965,"v":44.0},{"s":"B","g":4,"t":970,"v":44.9},{"s":"B","g":4,"t":975,"v":43.3},{"s":"B","g":4,"t":980,"v":44.2},{"s":"B","g":4,"t":985,"v":42.7},{"s":"B","g":4,"t":990,"v":43.6},{"s":"B","g":4,"t":995,"v":42.1},{"s":"B","g":4,"t":1000,"v":43.0},{"s":"B","g":4,"t":1005,"v":41.5},{"s":"B","g":4,"t":1010,"v":42.4},{"s":"B","g":4,"t":1015,"v":40.9},{"s":"B","g":4,"t":1020,"v":41.9},{"s":"B","g":4,"t":1025,"v":40.4},{"s":"B","g":4,"t":1030,"v":41.3},{"s":"B","g":4,"t":1035,"v":39.8},{"s":"B","g":4,"t":1040,"v":40.8},{"s":"B","g":4,"t":1045,"v":39.4},{"s":"B","g":4,"t":1050,"v":40.4},{"s":"B","g":4,"t":1055,"v":39.0},{"s":"B","g":4,"t":1060,"v":40.1},{"s":"B","g":4,"t":1065,"v":38.7},{"s":"B","g":4,"t":1070,"v":39.8},{"s":"B","g":4,"t":1075,"v":38.5},{"s":"B","g":4,"t":1080,"v":39.6},{"s":"B","g":4,"t":1084,"v":38.8}
],
"treat": [
{"grp":"a","row":"1","treatment":"None","start":5,"end":128},
{"grp":"a","row":"1","treatment":"Yoda1","start":128,"end":1079},
{"grp":"a","row":"2","treatment":"anti-Ig","start":354,"end":1079},
{"grp":"a","row":"3","treatment":"EGTA","start":836,"end":1079},
{"grp":"b","row":"1","treatment":"None","start":5,"end":128},
{"grp":"b","row":"1","treatment":"Yoda1","start":128,"end":1082},
{"grp":"b","row":"2","treatment":"anti-Ig","start":128,"end":1082},
{"grp":"b","row":"3","treatment":"EGTA","start":827,"end":1082},
{"grp":"c","row":"1","treatment":"None","start":5,"end":128},
{"grp":"c","row":"1","treatment":"anti-Ig","start":128,"end":1079},
{"grp":"c","row":"2","treatment":"Yoda1","start":354,"end":1079},
{"grp":"c","row":"3","treatment":"EGTA","start":827,"end":1079}
],
"arms": [
{"grp":"a","label":"Yoda1 → anti-Ig"},
{"grp":"b","label":"Yoda1 + anti-Ig"},
{"grp":"c","label":"anti-Ig → Yoda1"}
],
"additions": [{"t":125},{"t":355},{"t":838}],
"b_bars": [
{"cat":"Yoda1 E","stim":"Yoda1","mean":6.0,"lo":3.9,"hi":8.1},
{"cat":"Yoda1 –","stim":"Yoda1","mean":4.74,"lo":2.73,"hi":6.8},
{"cat":"Yoda1 T","stim":"Yoda1","mean":5.04,"lo":3.08,"hi":7.05},
{"cat":"Ionomycin E","stim":"Ionomycin","mean":9.56,"lo":6.04,"hi":13.16},
{"cat":"Ionomycin –","stim":"Ionomycin","mean":7.75,"lo":5.11,"hi":10.43},
{"cat":"Ionomycin T","stim":"Ionomycin","mean":9.74,"lo":5.41,"hi":14.05}
],
"b_pts": [
{"cat":"Yoda1 E","bcr":"E","stim":"Yoda1","v":8.7,"side":"C"},
{"cat":"Yoda1 E","bcr":"E","stim":"Yoda1","v":7.5,"side":"C"},
{"cat":"Yoda1 E","bcr":"E","stim":"Yoda1","v":6.65,"side":"C"},
{"cat":"Yoda1 E","bcr":"E","stim":"Yoda1","v":5.5,"side":"L"},
{"cat":"Yoda1 E","bcr":"E","stim":"Yoda1","v":5.05,"side":"R"},
{"cat":"Yoda1 E","bcr":"E","stim":"Yoda1","v":2.65,"side":"C"},
{"cat":"Yoda1 –","bcr":"–","stim":"Yoda1","v":6.77,"side":"L"},
{"cat":"Yoda1 –","bcr":"–","stim":"Yoda1","v":6.77,"side":"R"},
{"cat":"Yoda1 –","bcr":"–","stim":"Yoda1","v":4.88,"side":"L"},
{"cat":"Yoda1 –","bcr":"–","stim":"Yoda1","v":5.25,"side":"R"},
{"cat":"Yoda1 –","bcr":"–","stim":"Yoda1","v":3.08,"side":"C"},
{"cat":"Yoda1 –","bcr":"–","stim":"Yoda1","v":1.68,"side":"C"},
{"cat":"Yoda1 T","bcr":"T","stim":"Yoda1","v":7.0,"side":"L"},
{"cat":"Yoda1 T","bcr":"T","stim":"Yoda1","v":7.0,"side":"R"},
{"cat":"Yoda1 T","bcr":"T","stim":"Yoda1","v":5.81,"side":"C"},
{"cat":"Yoda1 T","bcr":"T","stim":"Yoda1","v":4.83,"side":"C"},
{"cat":"Yoda1 T","bcr":"T","stim":"Yoda1","v":3.78,"side":"C"},
{"cat":"Yoda1 T","bcr":"T","stim":"Yoda1","v":1.91,"side":"C"},
{"cat":"Ionomycin E","bcr":"E","stim":"Ionomycin","v":12.4,"side":"L"},
{"cat":"Ionomycin E","bcr":"E","stim":"Ionomycin","v":12.6,"side":"R"},
{"cat":"Ionomycin E","bcr":"E","stim":"Ionomycin","v":8.03,"side":"C"},
{"cat":"Ionomycin E","bcr":"E","stim":"Ionomycin","v":5.3,"side":"C"},
{"cat":"Ionomycin –","bcr":"–","stim":"Ionomycin","v":10.27,"side":"L"},
{"cat":"Ionomycin –","bcr":"–","stim":"Ionomycin","v":10.2,"side":"R"},
{"cat":"Ionomycin –","bcr":"–","stim":"Ionomycin","v":8.33,"side":"C"},
{"cat":"Ionomycin –","bcr":"–","stim":"Ionomycin","v":4.71,"side":"L"},
{"cat":"Ionomycin –","bcr":"–","stim":"Ionomycin","v":5.25,"side":"R"},
{"cat":"Ionomycin T","bcr":"T","stim":"Ionomycin","v":16.27,"side":"C"},
{"cat":"Ionomycin T","bcr":"T","stim":"Ionomycin","v":11.6,"side":"C"},
{"cat":"Ionomycin T","bcr":"T","stim":"Ionomycin","v":7.98,"side":"L"},
{"cat":"Ionomycin T","bcr":"T","stim":"Ionomycin","v":7.91,"side":"R"},
{"cat":"Ionomycin T","bcr":"T","stim":"Ionomycin","v":4.95,"side":"C"}
],
"b_groups": [
{"first":"Yoda1 E","mid":"Yoda1 –","last":"Yoda1 T","label":"Yoda1"},
{"first":"Ionomycin E","mid":"Ionomycin –","last":"Ionomycin T","label":"Ionomycin"}
],
"c_bars": [
{"cat":"Yoda1 –","bcr":"–","mean":3.8,"lo":1.54,"hi":6.2},
{"cat":"Yoda1 T","bcr":"T","mean":5.18,"lo":2.67,"hi":7.82},
{"cat":"Syk –","bcr":"–","mean":4.23,"lo":1.68,"hi":6.92},
{"cat":"Syk T","bcr":"T","mean":4.87,"lo":1.8,"hi":8.09}
],
"c_pts": [
{"cat":"Yoda1 –","bcr":"–","v":7.15},{"cat":"Yoda1 –","bcr":"–","v":3.57},{"cat":"Yoda1 –","bcr":"–","v":3.07},{"cat":"Yoda1 –","bcr":"–","v":1.7},
{"cat":"Yoda1 T","bcr":"T","v":7.62},{"cat":"Yoda1 T","bcr":"T","v":6.86},{"cat":"Yoda1 T","bcr":"T","v":4.5},{"cat":"Yoda1 T","bcr":"T","v":1.95},
{"cat":"Syk –","bcr":"–","v":7.27},{"cat":"Syk –","bcr":"–","v":5.67},{"cat":"Syk –","bcr":"–","v":2.63},{"cat":"Syk –","bcr":"–","v":1.65},
{"cat":"Syk T","bcr":"T","v":8.35},{"cat":"Syk T","bcr":"T","v":6.65},{"cat":"Syk T","bcr":"T","v":3.4},{"cat":"Syk T","bcr":"T","v":1.38}
],
"c_groups": [
{"first":"Yoda1 –","last":"Yoda1 T","k":1,"l1":"Yoda1"},
{"first":"Syk –","last":"Syk T","k":2,"l1":"Yoda1","l2":"+","l3":"Syk inhibitor"}
],
"d_bars": [
{"cat":"anti-Ig –","bcr":"–","mean":1.09,"lo":1.0,"hi":1.18},
{"cat":"anti-Ig T","bcr":"T","mean":3.68,"lo":2.46,"hi":4.98},
{"cat":"Syk –","bcr":"–","mean":1.07,"lo":1.04,"hi":1.11},
{"cat":"Syk T","bcr":"T","mean":1.1,"lo":1.02,"hi":1.2}
],
"d_pts": [
{"cat":"anti-Ig –","bcr":"–","v":1.0,"side":"L"},{"cat":"anti-Ig –","bcr":"–","v":1.23,"side":"C"},{"cat":"anti-Ig –","bcr":"–","v":1.1,"side":"R"},
{"cat":"anti-Ig T","bcr":"T","v":5.14,"side":"C"},{"cat":"anti-Ig T","bcr":"T","v":3.3,"side":"C"},{"cat":"anti-Ig T","bcr":"T","v":2.71,"side":"C"},
{"cat":"Syk –","bcr":"–","v":1.05,"side":"L"},{"cat":"Syk –","bcr":"–","v":1.12,"side":"C"},{"cat":"Syk –","bcr":"–","v":1.06,"side":"R"},
{"cat":"Syk T","bcr":"T","v":1.03,"side":"L"},{"cat":"Syk T","bcr":"T","v":1.22,"side":"C"},{"cat":"Syk T","bcr":"T","v":1.05,"side":"R"}
],
"d_groups": [
{"first":"anti-Ig –","last":"anti-Ig T","k":1,"l1":"anti-Ig"},
{"first":"Syk –","last":"Syk T","k":2,"l1":"anti-Ig","l2":"+","l3":"Syk inhibitor"}
]
},
"resolve": {"scale": {"color": "independent", "stroke": "independent", "fill": "independent", "shape": "independent", "xOffset": "independent"}},
"hconcat": [
{"resolve": {"scale": {"color": "independent", "stroke": "independent", "fill": "independent", "shape": "independent", "xOffset": "independent"}},
 "vconcat": [
 {"width": 676, "height": 148,
  "data": {"values": [{"p": "A"}]},
  "mark": {"type": "text", "fontSize": 52, "fontWeight": "bold", "align": "left", "baseline": "alphabetic", "dx": -363, "dy": 32},
  "encoding": {"text": {"field": "p"}, "x": {"datum": 0, "type": "quantitative", "scale": {"domain": [0, 1]}, "axis": null}, "y": {"datum": 1, "type": "quantitative", "scale": {"domain": [0, 1]}, "axis": null}}},
 {"resolve": {"scale": {"color": "independent", "stroke": "independent", "fill": "independent", "shape": "independent", "xOffset": "independent"}},
  "vconcat": [
  {"width": 676, "height": 344,
   "view": {"stroke": "#404040", "strokeWidth": 1.5},
   "data": {"name": "trace"},
   "mark": {"type": "line", "strokeWidth": 2.5, "strokeJoin": "round"},
   "encoding": {
    "x": {"field": "t", "type": "quantitative", "scale": {"domain": [0, 1085], "nice": false, "zero": false},
     "axis": {"title": "Time (s)", "titleFontSize": 42, "titleX": -55, "titleY": 37, "titleAlign": "right", "titleBaseline": "middle",
      "values": [0,50,100,150,200,250,300,350,400,450,500,550,600,650,700,750,800,850,900,950,1000,1050], "format": "d",
      "labelExpr": "datum.value % 200 == 0 ? datum.label : ''", "labelFontSize": 36, "labelPadding": 5, "labelFlush": false, "labelOverlap": false,
      "tickSize": {"condition": {"test": "datum.value % 200 == 0", "value": 10}, "value": 6}, "tickWidth": 1.5, "tickColor": "#404040", "domainColor": "#404040", "domainWidth": 1.5}},
    "y": {"field": "v", "type": "quantitative", "scale": {"domain": [2.3, 138.6], "nice": false, "zero": false},
     "axis": {"title": "CAL520 FI (Median)", "titleFontSize": 34, "titleX": -130, "titleY": 172, "titleAlign": "center", "titleBaseline": "middle",
      "values": [10,20,30,40,50,60,70,80,90,100,110,120,130],
      "labelExpr": "datum.value % 30 == 10 ? datum.value + 'k' : ''", "labelFontSize": 34, "labelPadding": 11, "labelOverlap": false, "labelFlush": false,
      "tickSize": {"condition": {"test": "datum.value % 30 == 10", "value": 10}, "value": 6}, "tickWidth": 1.5, "tickColor": "#404040", "domainColor": "#404040", "domainWidth": 1.5}},
    "color": {"field": "s", "type": "nominal", "scale": {"domain": ["R", "G", "B"], "range": ["#EC2027", "#41B649", "#2B3A96"]}, "legend": null},
    "detail": {"field": "g", "type": "nominal"}
   }},
  {"resolve": {"scale": {"color": "independent", "stroke": "independent", "fill": "independent", "shape": "independent", "xOffset": "independent"}},
   "vconcat": [
   {"width": 676, "height": 41,
    "layer": [
     {"data": {"name": "additions"}, "mark": {"type": "rule", "strokeWidth": 4, "color": "#1a1a1a"},
      "encoding": {"x": {"field": "t", "type": "quantitative", "scale": {"domain": [0, 1085], "nice": false, "zero": false}, "axis": null},
       "y": {"datum": 0, "type": "quantitative", "scale": {"domain": [0, 1]}, "axis": null}, "y2": {"datum": 0.75}}},
     {"data": {"name": "additions"}, "mark": {"type": "point", "shape": "M0,0L0.48,1L-0.48,1Z", "filled": true, "color": "#1a1a1a", "opacity": 1, "size": 1764},
      "encoding": {"x": {"field": "t", "type": "quantitative"}, "y": {"datum": 1, "type": "quantitative"}}},
     {"data": {"values": [{"label": "Treatment"}]}, "mark": {"type": "text", "fontSize": 48, "align": "right", "baseline": "alphabetic", "dx": -36, "dy": 25},
      "encoding": {"text": {"field": "label"}, "x": {"datum": 0, "type": "quantitative"}, "y": {"datum": 0, "type": "quantitative"}}}
    ]},
   {"width": 676, "height": 419,
    "resolve": {"scale": {"color": "independent"}},
    "layer": [
     {"data": {"name": "treat"}, "mark": {"type": "bar"},
      "encoding": {
       "x": {"field": "start", "type": "quantitative", "scale": {"domain": [0, 1085], "nice": false, "zero": false}, "axis": null},
       "x2": {"field": "end"},
       "y": {"field": "grp", "type": "nominal", "scale": {"domain": ["a","b","c"], "paddingInner": 0.111, "paddingOuter": 0.1016}, "axis": null},
       "yOffset": {"field": "row", "type": "nominal", "scale": {"domain": ["1","2","3"], "paddingInner": 0.143, "paddingOuter": 0.0715}},
       "color": {"field": "treatment", "type": "nominal", "scale": {"domain": ["None", "Yoda1", "anti-Ig", "EGTA"], "range": ["#0a0a0a", "#2BADE3", "#CF4A9B", "#F8A11E"]},
        "legend": {"title": null, "orient": "none", "legendX": -224, "legendY": 494, "direction": "horizontal", "symbolType": "M-1,-0.44L1,-0.44L1,0.44L-1,0.44Z", "symbolSize": 2916, "symbolStrokeWidth": 0, "symbolOpacity": 1, "labelFontSize": 39, "labelOffset": 31, "columnPadding": 40, "labelColor": "#111", "padding": 0, "labelLimit": 400}}
      }},
     {"data": {"name": "additions"}, "mark": {"type": "rule", "strokeDash": [40, 10], "strokeWidth": 3.5, "color": "#111"},
      "encoding": {"x": {"field": "t", "type": "quantitative"}}},
     {"data": {"name": "arms"}, "mark": {"type": "text", "fontSize": 49, "align": "right", "baseline": "middle", "dx": -16},
      "encoding": {"text": {"field": "label"}, "x": {"datum": 0, "type": "quantitative"}, "y": {"field": "grp", "type": "nominal"},
       "color": {"field": "label", "type": "nominal", "scale": {"domain": ["Yoda1 → anti-Ig", "Yoda1 + anti-Ig", "anti-Ig → Yoda1"], "range": ["#0DA24B", "#EC1C24", "#2B3290"]}, "legend": null}}}
    ]}
  ], "spacing": 17, "bounds": "flush"}
 ], "spacing": 62, "bounds": "flush"}
], "spacing": 61, "bounds": "flush"},
{"resolve": {"scale": {"color": "independent", "stroke": "independent", "fill": "independent", "shape": "independent", "xOffset": "independent"}},
 "vconcat": [
 {"width": 440, "height": 286,
  "layer": [
   {"data": {"name": "b_bars"}, "mark": {"type": "bar", "width": 43, "fill": "white", "strokeWidth": 5},
    "encoding": {
     "x": {"field": "cat", "type": "nominal", "scale": {"domain": ["Yoda1 E","Yoda1 –","Yoda1 T","Ionomycin E","Ionomycin –","Ionomycin T"], "paddingInner": 0, "paddingOuter": 0.12, "align": 0.42},
      "axis": {"title": "BCR:", "titleX": -8, "titleY": 48, "titleAlign": "right", "titleBaseline": "middle", "titleFontSize": 39, "labelExpr": "split(datum.label, ' ')[1]", "labelAngle": 0, "labelFontSize": 39, "labelBaseline": "middle", "labelPadding": 38, "tickSize": 10, "tickWidth": 4, "domainWidth": 4}},
     "y": {"field": "mean", "type": "quantitative", "scale": {"domain": [0, 20], "nice": false},
      "axis": {"title": "CAL520 (Fold)", "titleFontSize": 43, "titleX": -86, "titleY": 143, "titleAlign": "center", "titleBaseline": "middle", "values": [0,5,10,15,20], "labelFontSize": 32, "labelPadding": 13, "labelOffset": {"condition": {"test": "datum.value == 20", "value": 4}, "value": 0}, "tickSize": 11, "tickWidth": 4, "domainWidth": 4}},
     "stroke": {"field": "stim", "type": "nominal", "scale": {"domain": ["Yoda1", "Ionomycin"], "range": ["#111111", "#383838"]}, "legend": null}
    }},
   {"data": {"name": "b_bars"}, "mark": {"type": "rule", "strokeWidth": 3.5},
    "encoding": {"x": {"field": "cat", "type": "nominal"}, "y": {"field": "lo", "type": "quantitative"}, "y2": {"field": "hi"},
     "color": {"field": "cat", "type": "nominal", "scale": {"domain": ["Yoda1 E","Yoda1 –","Yoda1 T","Ionomycin E","Ionomycin –","Ionomycin T"], "range": ["#2E4FA0","#E8212A","#179A48","#383838","#383838","#383838"]}, "legend": null}}},
   {"data": {"name": "b_bars"}, "mark": {"type": "tick", "size": 26, "thickness": 3.5, "opacity": 1},
    "encoding": {"x": {"field": "cat", "type": "nominal"}, "y": {"field": "lo", "type": "quantitative"}, "color": {"field": "cat", "type": "nominal", "legend": null}}},
   {"data": {"name": "b_bars"}, "mark": {"type": "tick", "size": 26, "thickness": 3.5, "opacity": 1},
    "encoding": {"x": {"field": "cat", "type": "nominal"}, "y": {"field": "hi", "type": "quantitative"}, "color": {"field": "cat", "type": "nominal", "legend": null}}},
   {"data": {"name": "b_pts"}, "mark": {"type": "point", "filled": true, "size": 62, "opacity": 1},
    "encoding": {"x": {"field": "cat", "type": "nominal"},
     "xOffset": {"field": "side", "type": "nominal", "scale": {"domain": ["L", "C", "R"], "paddingInner": 0, "paddingOuter": 2.42}},
     "y": {"field": "v", "type": "quantitative"},
     "fill": {"field": "bcr", "type": "nominal", "scale": {"domain": ["E", "–", "T"], "range": ["#2E4FA0", "#E8212A", "#179A48"]}, "legend": null},
     "shape": {"field": "stim", "type": "nominal", "scale": {"domain": ["Yoda1", "Ionomycin"], "range": ["circle", "square"]}, "legend": null}}},
   {"data": {"name": "b_groups"}, "mark": {"type": "rule", "strokeWidth": 5, "color": "#111"},
    "encoding": {"x": {"field": "first", "type": "nominal", "bandPosition": 0.17}, "x2": {"field": "last", "bandPosition": 0.82}, "y": {"datum": -6.96, "type": "quantitative"}}},
   {"data": {"name": "b_groups"}, "mark": {"type": "text", "fontSize": 38, "baseline": "top", "align": "center"},
    "encoding": {"x": {"field": "mid", "type": "nominal"}, "y": {"datum": -8.57, "type": "quantitative"}, "text": {"field": "label"}}},
   {"data": {"values": [{"p": "B"}]}, "mark": {"type": "text", "fontSize": 52, "fontWeight": "bold", "align": "left", "baseline": "alphabetic", "dx": -227, "dy": 32},
    "encoding": {"x": {"datum": "Yoda1 E", "type": "nominal", "bandPosition": 0}, "y": {"datum": 20, "type": "quantitative"}, "text": {"field": "p"}}}
  ]},
 {"resolve": {"scale": {"color": "independent", "stroke": "independent", "fill": "independent", "shape": "independent", "xOffset": "independent"}},
  "vconcat": [
  {"width": 435, "height": 287,
   "layer": [
    {"data": {"name": "c_bars"}, "mark": {"type": "bar", "width": 61, "fill": "white", "strokeWidth": 6},
     "encoding": {
      "x": {"field": "cat", "type": "nominal", "scale": {"domain": ["Yoda1 –","Yoda1 T","Syk –","Syk T"], "paddingInner": 0, "paddingOuter": 0.197, "align": 0.47},
       "axis": {"title": "BCR:", "titleX": -1, "titleY": 53, "titleAlign": "right", "titleBaseline": "middle", "titleFontSize": 39, "labelExpr": "split(datum.label, ' ')[1]", "labelAngle": 0, "labelFontSize": 39, "labelBaseline": "middle", "labelPadding": 39, "tickSize": 14, "tickWidth": 4, "domainWidth": 4}},
      "y": {"field": "mean", "type": "quantitative", "scale": {"domain": [0, 10], "nice": false},
       "axis": {"title": "CAL520 (Fold)", "titleFontSize": 43, "titleX": -92, "titleY": 143, "titleAlign": "center", "titleBaseline": "middle", "values": [0,2,4,6,8,10], "labelFontSize": 32, "labelPadding": 10, "tickSize": 14, "tickWidth": 4, "domainWidth": 4}},
      "stroke": {"field": "bcr", "type": "nominal", "scale": {"domain": ["–", "T"], "range": ["#3352A3", "#EF4146"]}, "legend": null}
     }},
    {"data": {"name": "c_bars"}, "mark": {"type": "rule", "strokeWidth": 2.8},
     "encoding": {"x": {"field": "cat", "type": "nominal"}, "y": {"field": "lo", "type": "quantitative"}, "y2": {"field": "hi"},
      "color": {"field": "bcr", "type": "nominal", "scale": {"domain": ["–", "T"], "range": ["#3352A3", "#EF4146"]}, "legend": null}}},
    {"data": {"name": "c_bars"}, "mark": {"type": "tick", "size": 34, "thickness": 2.8, "opacity": 1},
     "encoding": {"x": {"field": "cat", "type": "nominal"}, "y": {"field": "lo", "type": "quantitative"}, "color": {"field": "bcr", "type": "nominal", "legend": null}}},
    {"data": {"name": "c_bars"}, "mark": {"type": "tick", "size": 34, "thickness": 2.8, "opacity": 1},
     "encoding": {"x": {"field": "cat", "type": "nominal"}, "y": {"field": "hi", "type": "quantitative"}, "color": {"field": "bcr", "type": "nominal", "legend": null}}},
    {"data": {"name": "c_pts"}, "mark": {"type": "point", "filled": true, "size": 120, "strokeWidth": 3.2, "opacity": 1},
     "encoding": {"x": {"field": "cat", "type": "nominal"}, "y": {"field": "v", "type": "quantitative"},
      "stroke": {"field": "bcr", "type": "nominal", "legend": null},
      "fill": {"field": "cat", "type": "nominal", "scale": {"domain": ["Yoda1 –","Yoda1 T","Syk –","Syk T"], "range": ["white", "white", "#3352A3", "#EF4146"]}, "legend": null}}},
    {"data": {"name": "c_groups"}, "mark": {"type": "rule", "strokeWidth": 5, "color": "#111"},
     "encoding": {"x": {"field": "first", "type": "nominal", "bandPosition": 0.035}, "x2": {"field": "last", "bandPosition": 0.94}, "y": {"datum": -3.37, "type": "quantitative"}}},
    {"data": {"name": "c_groups"}, "transform": [{"filter": "datum.k == 1"}], "mark": {"type": "text", "fontSize": 38, "baseline": "alphabetic", "align": "center"},
     "encoding": {"x": {"field": "first", "type": "nominal", "bandPosition": 1.0}, "y": {"datum": -5.331, "type": "quantitative"}, "text": {"field": "l1"}}},
    {"data": {"name": "c_groups"}, "transform": [{"filter": "datum.k == 2"}], "mark": {"type": "text", "fontSize": 38, "baseline": "alphabetic", "align": "center"},
     "encoding": {"x": {"field": "first", "type": "nominal", "bandPosition": 1.1}, "y": {"datum": -5.331, "type": "quantitative"}, "text": {"field": "l1"}}},
    {"data": {"name": "c_groups"}, "transform": [{"filter": "datum.k == 2"}], "mark": {"type": "text", "fontSize": 24, "fontWeight": "bold", "baseline": "alphabetic", "align": "center"},
     "encoding": {"x": {"field": "first", "type": "nominal", "bandPosition": 1.1}, "y": {"datum": -6.446, "type": "quantitative"}, "text": {"field": "l2"}}},
    {"data": {"name": "c_groups"}, "transform": [{"filter": "datum.k == 2"}], "mark": {"type": "text", "fontSize": 38, "baseline": "alphabetic", "align": "center"},
     "encoding": {"x": {"field": "first", "type": "nominal", "bandPosition": 1.1}, "y": {"datum": -7.84, "type": "quantitative"}, "text": {"field": "l3"}}},
    {"data": {"values": [{"p": "C"}]}, "mark": {"type": "text", "fontSize": 52, "fontWeight": "bold", "align": "left", "baseline": "alphabetic", "dx": -238, "dy": 15},
     "encoding": {"x": {"datum": "Yoda1 –", "type": "nominal", "bandPosition": 0}, "y": {"datum": 10, "type": "quantitative"}, "text": {"field": "p"}}}
   ]},
  {"width": 401, "height": 270,
   "layer": [
    {"data": {"name": "d_bars"}, "mark": {"type": "bar", "width": 57, "fill": "white", "strokeWidth": 6},
     "encoding": {
      "x": {"field": "cat", "type": "nominal", "scale": {"domain": ["anti-Ig –","anti-Ig T","Syk –","Syk T"], "paddingInner": 0, "paddingOuter": 0.163, "align": 0.37},
       "axis": {"title": "BCR:", "titleX": -12, "titleY": 50, "titleAlign": "right", "titleBaseline": "middle", "titleFontSize": 39, "labelExpr": "split(datum.label, ' ')[1]", "labelAngle": 0, "labelFontSize": 39, "labelBaseline": "middle", "labelPadding": 37, "tickSize": 13, "tickWidth": 4, "domainWidth": 4}},
      "y": {"field": "mean", "type": "quantitative", "scale": {"domain": [0.5, 6], "nice": false, "zero": false},
       "axis": {"title": "CAL520 (Fold)", "titleFontSize": 43, "titleX": -85, "titleY": 122, "titleAlign": "center", "titleBaseline": "middle", "values": [1,2,3,4,5,6], "labelFontSize": 32, "labelPadding": 10, "tickSize": 13, "tickWidth": 4, "domainWidth": 4}},
      "y2": {"datum": 0.5},
      "stroke": {"field": "bcr", "type": "nominal", "scale": {"domain": ["–", "T"], "range": ["#3352A3", "#EF4146"]}, "legend": null}
     }},
    {"data": {"name": "d_bars"}, "mark": {"type": "rule", "strokeWidth": 2.8},
     "encoding": {"x": {"field": "cat", "type": "nominal"}, "y": {"field": "lo", "type": "quantitative"}, "y2": {"field": "hi"},
      "color": {"field": "bcr", "type": "nominal", "scale": {"domain": ["–", "T"], "range": ["#3352A3", "#EF4146"]}, "legend": null}}},
    {"data": {"name": "d_bars"}, "mark": {"type": "tick", "size": 33, "thickness": 2.8, "opacity": 1},
     "encoding": {"x": {"field": "cat", "type": "nominal"}, "y": {"field": "lo", "type": "quantitative"}, "color": {"field": "bcr", "type": "nominal", "legend": null}}},
    {"data": {"name": "d_bars"}, "mark": {"type": "tick", "size": 33, "thickness": 2.8, "opacity": 1},
     "encoding": {"x": {"field": "cat", "type": "nominal"}, "y": {"field": "hi", "type": "quantitative"}, "color": {"field": "bcr", "type": "nominal", "legend": null}}},
    {"data": {"name": "d_pts"}, "mark": {"type": "point", "filled": true, "size": 115, "strokeWidth": 3.2, "opacity": 1},
     "encoding": {"x": {"field": "cat", "type": "nominal"},
      "xOffset": {"field": "side", "type": "nominal", "scale": {"domain": ["L", "C", "R"], "paddingInner": 0, "paddingOuter": 0.296}},
      "y": {"field": "v", "type": "quantitative"},
      "stroke": {"field": "bcr", "type": "nominal", "legend": null},
      "fill": {"field": "cat", "type": "nominal", "scale": {"domain": ["anti-Ig –","anti-Ig T","Syk –","Syk T"], "range": ["white", "white", "#3352A3", "#EF4146"]}, "legend": null}}},
    {"data": {"values": [{"cat": "anti-Ig T", "sig": "*"}]}, "mark": {"type": "text", "fontSize": 58, "baseline": "alphabetic", "align": "center", "dy": 35},
     "encoding": {"x": {"field": "cat", "type": "nominal"}, "y": {"datum": 6, "type": "quantitative"}, "text": {"field": "sig"}}},
    {"data": {"name": "d_groups"}, "mark": {"type": "rule", "strokeWidth": 5, "color": "#111"},
     "encoding": {"x": {"field": "first", "type": "nominal", "bandPosition": 0}, "x2": {"field": "last", "bandPosition": 1}, "y": {"datum": -1.42, "type": "quantitative"}}},
    {"data": {"name": "d_groups"}, "transform": [{"filter": "datum.k == 1"}], "mark": {"type": "text", "fontSize": 38, "baseline": "alphabetic", "align": "center"},
     "encoding": {"x": {"field": "first", "type": "nominal", "bandPosition": 1.0}, "y": {"datum": -2.392, "type": "quantitative"}, "text": {"field": "l1"}}},
    {"data": {"name": "d_groups"}, "transform": [{"filter": "datum.k == 2"}], "mark": {"type": "text", "fontSize": 38, "baseline": "alphabetic", "align": "center"},
     "encoding": {"x": {"field": "first", "type": "nominal", "bandPosition": 1.3}, "y": {"datum": -2.392, "type": "quantitative"}, "text": {"field": "l1"}}},
    {"data": {"name": "d_groups"}, "transform": [{"filter": "datum.k == 2"}], "mark": {"type": "text", "fontSize": 24, "fontWeight": "bold", "baseline": "alphabetic", "align": "center"},
     "encoding": {"x": {"field": "first", "type": "nominal", "bandPosition": 1.3}, "y": {"datum": -3.023, "type": "quantitative"}, "text": {"field": "l2"}}},
    {"data": {"name": "d_groups"}, "transform": [{"filter": "datum.k == 2"}], "mark": {"type": "text", "fontSize": 38, "baseline": "alphabetic", "align": "center"},
     "encoding": {"x": {"field": "first", "type": "nominal", "bandPosition": 1.3}, "y": {"datum": -3.838, "type": "quantitative"}, "text": {"field": "l3"}}},
    {"data": {"values": [{"p": "D"}]}, "mark": {"type": "text", "fontSize": 52, "fontWeight": "bold", "align": "left", "baseline": "alphabetic", "dx": -231, "dy": -5},
     "encoding": {"x": {"datum": "anti-Ig –", "type": "nominal", "bandPosition": 0}, "y": {"datum": 6, "type": "quantitative"}, "text": {"field": "p"}}}
   ]}
 ], "spacing": 282, "bounds": "flush"}
], "spacing": 221, "bounds": "flush"}
],
"spacing": 93,
"bounds": "full"
}
